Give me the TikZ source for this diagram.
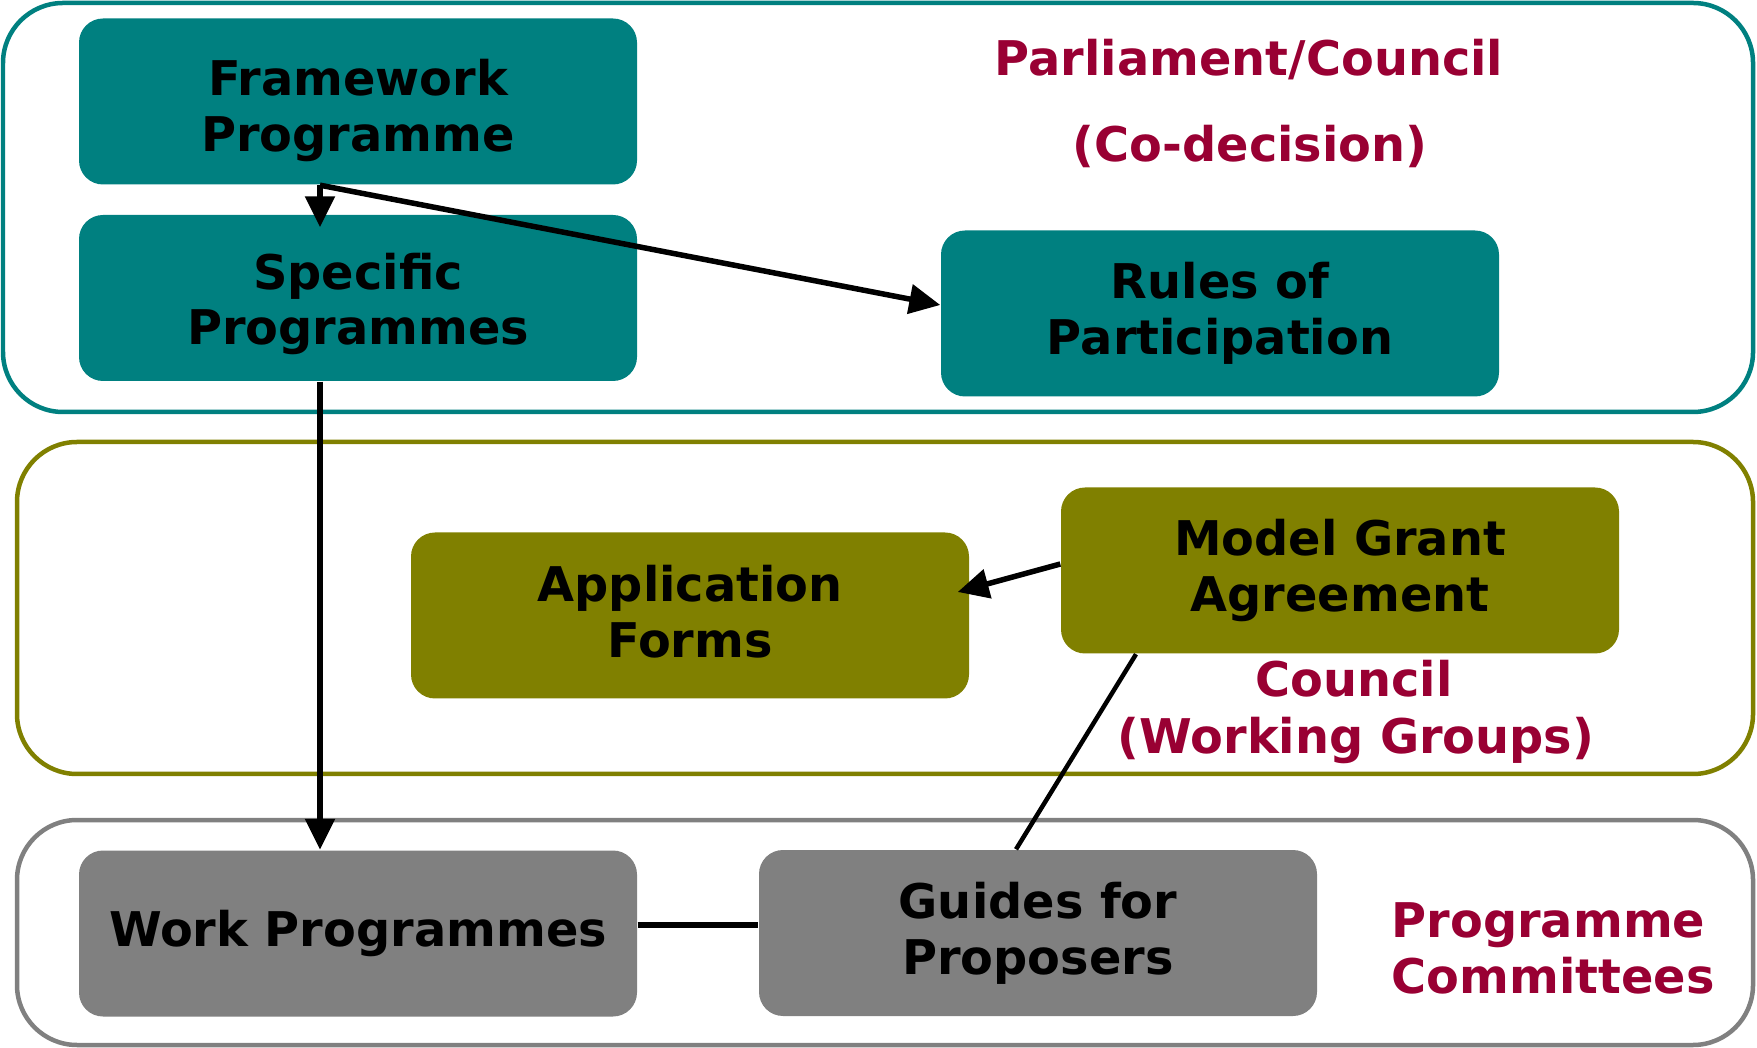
\documentclass[tikz,border=0pt]{standalone}
\usepackage{fontspec}
\setmainfont{DejaVu Sans}
\usetikzlibrary{arrows.meta}
\definecolor{teal}{HTML}{008080}
\definecolor{olive}{HTML}{808000}
\definecolor{greybox}{HTML}{808080}
\definecolor{labelred}{HTML}{990033}
\tikzset{
  boxtext/.style={inner sep=0pt, align=center, font=\fontsize{13.6}{15.9}\selectfont\bfseries, text=black},
  box/.style={boxtext, rounded corners=2.4mm, minimum width=55.8mm, minimum height=16.6mm},
  tealbox/.style={box, fill=teal},
  olivebox/.style={box, fill=olive},
  greyfill/.style={box, fill=greybox},
  group/.style={rounded corners=6mm, line width=0.45mm},
  lbl/.style={font=\fontsize{13.6}{15.9}\selectfont\bfseries, text=labelred, inner sep=0pt},
  conn/.style={line width=0.55mm, draw=black},
  arr/.style={conn, -{Triangle[length=3.1mm,width=2.9mm]}}
}
\begin{document}
\begin{tikzpicture}[x=0.1mm, y=-0.1mm]
\useasboundingbox (0,0) rectangle (1757,1048);
% group frames
\draw[group, draw=teal] (3,3) rectangle (1753,412);
\draw[group, draw=olive] (17,442) rectangle (1753,774);
\draw[group, draw=greybox] (17,820) rectangle (1753,1045);
% boxes
\node[tealbox] (fp) at (358,101.5) {};
\node[boxtext] (fpt) at ([yshift=-0.9mm]fp.center) {Framework\\Programme};
\node[tealbox] (sp) at (358,298) {};
\node[boxtext] (spt) at ([yshift=-0.6mm]sp.center) {Specific\\Programmes};
\node[tealbox] (rp) at (1220,313.5) {Rules of\\Participation};
\node[olivebox] (af) at (690,615.5) {};
\node[boxtext] (aft) at ([yshift=0.4mm]af.center) {Application\\Forms};
\node[olivebox] (mg) at (1340,570.5) {Model Grant\\Agreement};
\node[greyfill] (wp) at (358,933.5) {Work Programmes};
\node[greyfill] (gp) at (1038,933) {Guides for\\Proposers};
% labels
\node[lbl, anchor=base] (l1) at (1249,76) {Parliament/Council};
\node[lbl, anchor=base] (l2) at (1250,162) {(Co-decision)};
\node[lbl, anchor=base] (l3) at (1354,697) {Council};
\node[lbl, anchor=base] (l4) at (1356,754) {(Working Groups)};
\node[lbl, anchor=base west] (l5) at (1391,937) {Programme};
\node[lbl, anchor=base west] (l6) at (1391,993) {Committees};
% connectors
\coordinate (fpout) at ([xshift=-3.8mm]fp.south);
\draw[arr] (fpout) -- ([xshift=-3.8mm,yshift=-1.3mm]sp.north);
\draw[arr] (fpout) -- ([yshift=0.85mm]rp.west);
\draw[arr] ([xshift=-3.8mm]sp.south) -- ([xshift=-3.8mm]wp.north);
\draw[arr] ([yshift=0.65mm]mg.west) -- ([xshift=-1.2mm,yshift=2.35mm]af.east);
\draw[conn, line width=0.45mm] ([xshift=-20.4mm]mg.south) -- ([xshift=-2.2mm]gp.north);
\draw[conn] ([yshift=0.85mm]wp.east) -- ([yshift=0.85mm]wp.east -| gp.west);
\end{tikzpicture}
\end{document}
